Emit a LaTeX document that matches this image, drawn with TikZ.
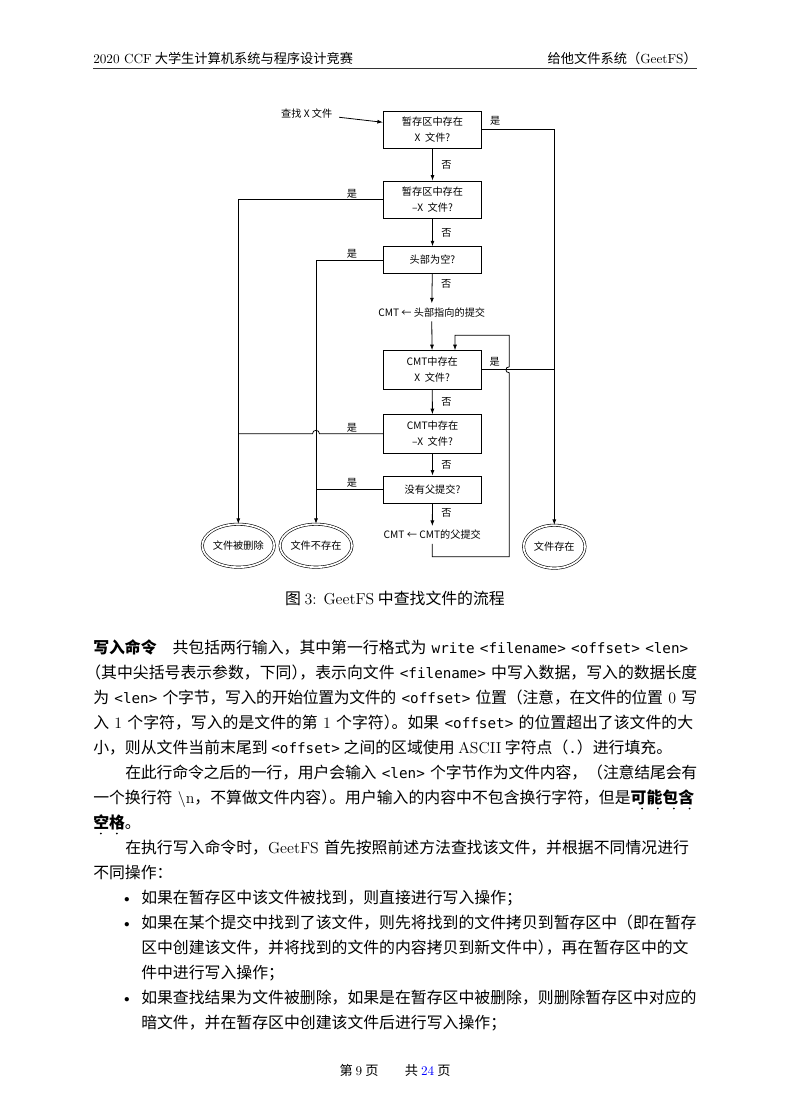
\documentclass[tikz,border=0pt]{standalone}
\usepackage{fontspec}
\usetikzlibrary{arrows.meta,shapes.geometric,calc}
\newfontfamily\cjk{Noto Sans CJK SC}
\newfontfamily\lmr{Latin Modern Roman}
\newfontfamily\dvmono{DejaVu Sans Mono}[Scale=0.9]
\newcommand\lm[1]{{\lmr #1}}
\newcommand\tm[1]{{\dvmono #1}}
\newcommand\J{\parfillskip=0pt\relax}
\newcommand\hk{\kern-0.5em\relax}
\newcommand\bodyfont{\cjk\fontsize{12}{18.7}\selectfont}
\newcommand\flowfont{\cjk\fontsize{7.7}{12.1}\selectfont}
\newcommand\headfont{\cjk\fontsize{10}{12}\selectfont}
\XeTeXlinebreaklocale "zh"
\XeTeXlinebreakskip=0pt plus 2pt minus 1pt
\begin{document}
\begin{tikzpicture}[x=0.7564pt,y=-0.7564pt,
  >={Latex[length=4.2pt,width=3pt]},
  every node/.style={inner sep=0pt},
  txt/.style={anchor=base west,font=\bodyfont},
  box/.style={draw,line width=0.6pt,minimum width=74.4pt,align=center,font=\flowfont},
  lab/.style={font=\flowfont},
  endnode/.style={ellipse,draw,double,double distance=1.3pt,line width=0.45pt,
    minimum width=46.5pt,minimum height=32.5pt,font=\flowfont},
  flow/.style={line width=0.6pt}]
\fill[white] (0,0) rectangle (787,1115);
\useasboundingbox (0,0) rectangle (787,1115);

\node[anchor=base west,font=\headfont] (hl) at (93,63) {\lm{2020 CCF} 大学生计算机系统与程序设计竞赛};
\node[anchor=base east,font=\headfont] (hr) at (697,63) {给他文件系统（\lm{GeetFS}）};
\draw[line width=1pt,black!80] (93,68.3) -- (697,68.3);

\node[lab] (find) at (306.7,113.3) {查找 X 文件};
\node[box,minimum height=28.2pt] (b1) at (432.5,129.7) {暂存区中存在\\X\ \ 文件?};
\node[box,minimum height=28.2pt] (b2) at (432.5,199.7) {暂存区中存在\\–X\ \ 文件?};
\node[box,minimum height=20.1pt] (b3) at (432.5,260) {头部为空?};
\node[lab,inner sep=3pt] (c1) at (431.7,312.3) {CMT ← 头部指向的提交};
\node[box,minimum height=29pt] (b4) at (432.2,369.8) {CMT中存在\\X\ \ 文件?};
\node[box,minimum height=29pt] (b5) at (432.5,433.8) {CMT中存在\\–X\ \ 文件?};
\node[box,minimum height=20.4pt] (b6) at (432.5,489.5) {没有父提交?};
\node[lab,inner sep=3pt] (c2) at (432.3,535) {CMT ← CMT的父提交};
\node[endnode] (del) at (238.3,545.7) {文件被删除};
\node[endnode] (nf) at (316,545.7) {文件不存在};
\node[endnode] (ex) at (554.3,546.7) {文件存在};
\coordinate (lr) at (509.3,556.7);

\draw[flow,->] ([xshift=5pt,yshift=-3pt]find.east) -- ([yshift=5.6pt]b1.west);
\draw[flow,->] (b1) -- node[lab,right=6.5pt] {否} (b2);
\draw[flow,->] (b2) -- node[lab,right=6.5pt] {否} (b3);
\draw[flow,->] (b3) -- node[lab,pos=0.35,right=6.5pt] {否} (c1);
\draw[flow,->] (c1) -- (b4);
\draw[flow,->] (b4) -- node[lab,right=6.5pt] {否} (b5);
\draw[flow,->] (b5) -- node[lab,right=6.5pt] {否} (b6);
\draw[flow,->] (b6) -- node[lab,pos=0.4,right=6.5pt] {否} (c2);
\draw[flow,->] (b1.east) -| node[lab,pos=0,anchor=south west,xshift=5.7pt,yshift=3pt] {是} (ex.north);
\draw[flow] (b4.east) -- node[lab,pos=0,anchor=south west,xshift=5.7pt,yshift=2.4pt] {是} (b4.east -| ex.north);
\draw[flow,->] (b2.west) -| node[lab,pos=0,anchor=south east,xshift=-19.2pt,yshift=1.1pt] {是} (del.north);
\draw[flow,->] (b3.west) -| node[lab,pos=0,anchor=south east,xshift=-19.2pt,yshift=1.1pt] {是} (nf.north);
\draw[flow] (b5.west) -- node[lab,pos=0,anchor=south east,xshift=-19.2pt,yshift=1.1pt] {是} ($(b5.west -| nf.north)+(3.5,0)$)
  .. controls +(0,-4.6) and +(0,-4.6) .. ($(b5.west -| nf.north)+(-3.5,0)$) -- (b5.west -| del.north);
\draw[flow] (b6.west) -- node[lab,pos=0,anchor=south east,xshift=-19.2pt,yshift=1.1pt] {是} (b6.west -| nf.north);
\draw[flow,->] (c2.south) |- (lr) -- ($(lr |- b4.east)+(0,3)$)
  .. controls +(-4.5,0) and +(-4.5,0) .. ($(lr |- b4.east)+(0,-3)$)
  |- ($(b4.north)+(22.8,-15)$) -- ($(b4.north)+(22.8,0)$);

\node[anchor=base,font=\bodyfont] (cap) at (395,604) {图 \lm{3: GeetFS} 中查找文件的流程};

\node[txt,text width=456.9pt] (l1) at (93,653) {\J \textbf{写入命令}\quad 共包括两行输入，其中第一行格式为 \tm{write <filename> <offset> <len>}};
\node[txt,text width=456.9pt] (l2) at (93,678) {\J \hk（其中尖括号表示参数，下同）\hk，表示向文件 \tm{<filename>} 中写入数据，写入的数据长度};
\node[txt,text width=456.9pt] (l3) at (93,703) {\J 为 \tm{<len>} 个字节，写入的开始位置为文件的 \tm{<offset>} 位置（注意，在文件的位置 \lm{0} 写};
\node[txt,text width=456.9pt] (l4) at (93,728) {\J 入 \lm{1} 个字符，写入的是文件的第 \lm{1} 个字符）\hk。如果 \tm{<offset>} 的位置超出了该文件的大};
\node[txt] (l5) at (93,753) {小，则从文件当前末尾到 \tm{<offset>} 之间的区域使用 \lm{ASCII} 字符点（\tm{.}）进行填充。};
\node[txt,text width=432.7pt] (l6) at (125,778) {\J 在此行命令之后的一行，用户会输入 \tm{<len>} 个字节作为文件内容，（注意结尾会有};
\node[txt,text width=456.9pt] (l7) at (93,803) {\J 一个换行符 \lm{\textbackslash n}，不算做文件内容）\hk。用户输入的内容中不包含换行字符，但是\textbf{可能包含}};
\node[txt] (l8) at (93,828) {\textbf{空格}。};
\foreach \k in {0,...,3} \fill ($(l7.base east)+(-7.9-15.87*\k,5.5)$) circle (1);
\foreach \k in {0,1} \fill ($(l8.base west)+(7.9+15.87*\k,5.5)$) circle (1);
\node[txt,text width=432.7pt] (l9) at (125,853) {\J 在执行写入命令时，\lm{GeetFS} 首先按照前述方法查找该文件，并根据不同情况进行};
\node[txt] (l10) at (93,878) {不同操作：};
\node[anchor=base,font=\bodyfont] (d1) at (127,903) {\lm{\textbullet}};
\node[txt] (l11) at (141,903) {如果在暂存区中该文件被找到，则直接进行写入操作；};
\node[anchor=base,font=\bodyfont] (d2) at (127,928) {\lm{\textbullet}};
\node[txt,text width=420.6pt] (l12) at (141,928) {\J 如果在某个提交中找到了该文件，则先将找到的文件拷贝到暂存区中（即在暂存};
\node[txt,text width=420.6pt] (l13) at (141,953) {\J 区中创建该文件，并将找到的文件的内容拷贝到新文件中）\hk，再在暂存区中的文};
\node[txt] (l14) at (141,978) {件中进行写入操作；};
\node[anchor=base,font=\bodyfont] (d3) at (127,1003) {\lm{\textbullet}};
\node[txt,text width=420.6pt] (l15) at (141,1003) {\J 如果查找结果为文件被删除，如果是在暂存区中被删除，则删除暂存区中对应的};
\node[txt] (l16) at (141,1028) {暗文件，并在暂存区中创建该文件后进行写入操作；};

\node[anchor=base,font=\headfont] (foot) at (395,1075) {第 \lm{9} 页\qquad 共 \lm{\color{blue}24} 页};
\end{tikzpicture}
\end{document}
